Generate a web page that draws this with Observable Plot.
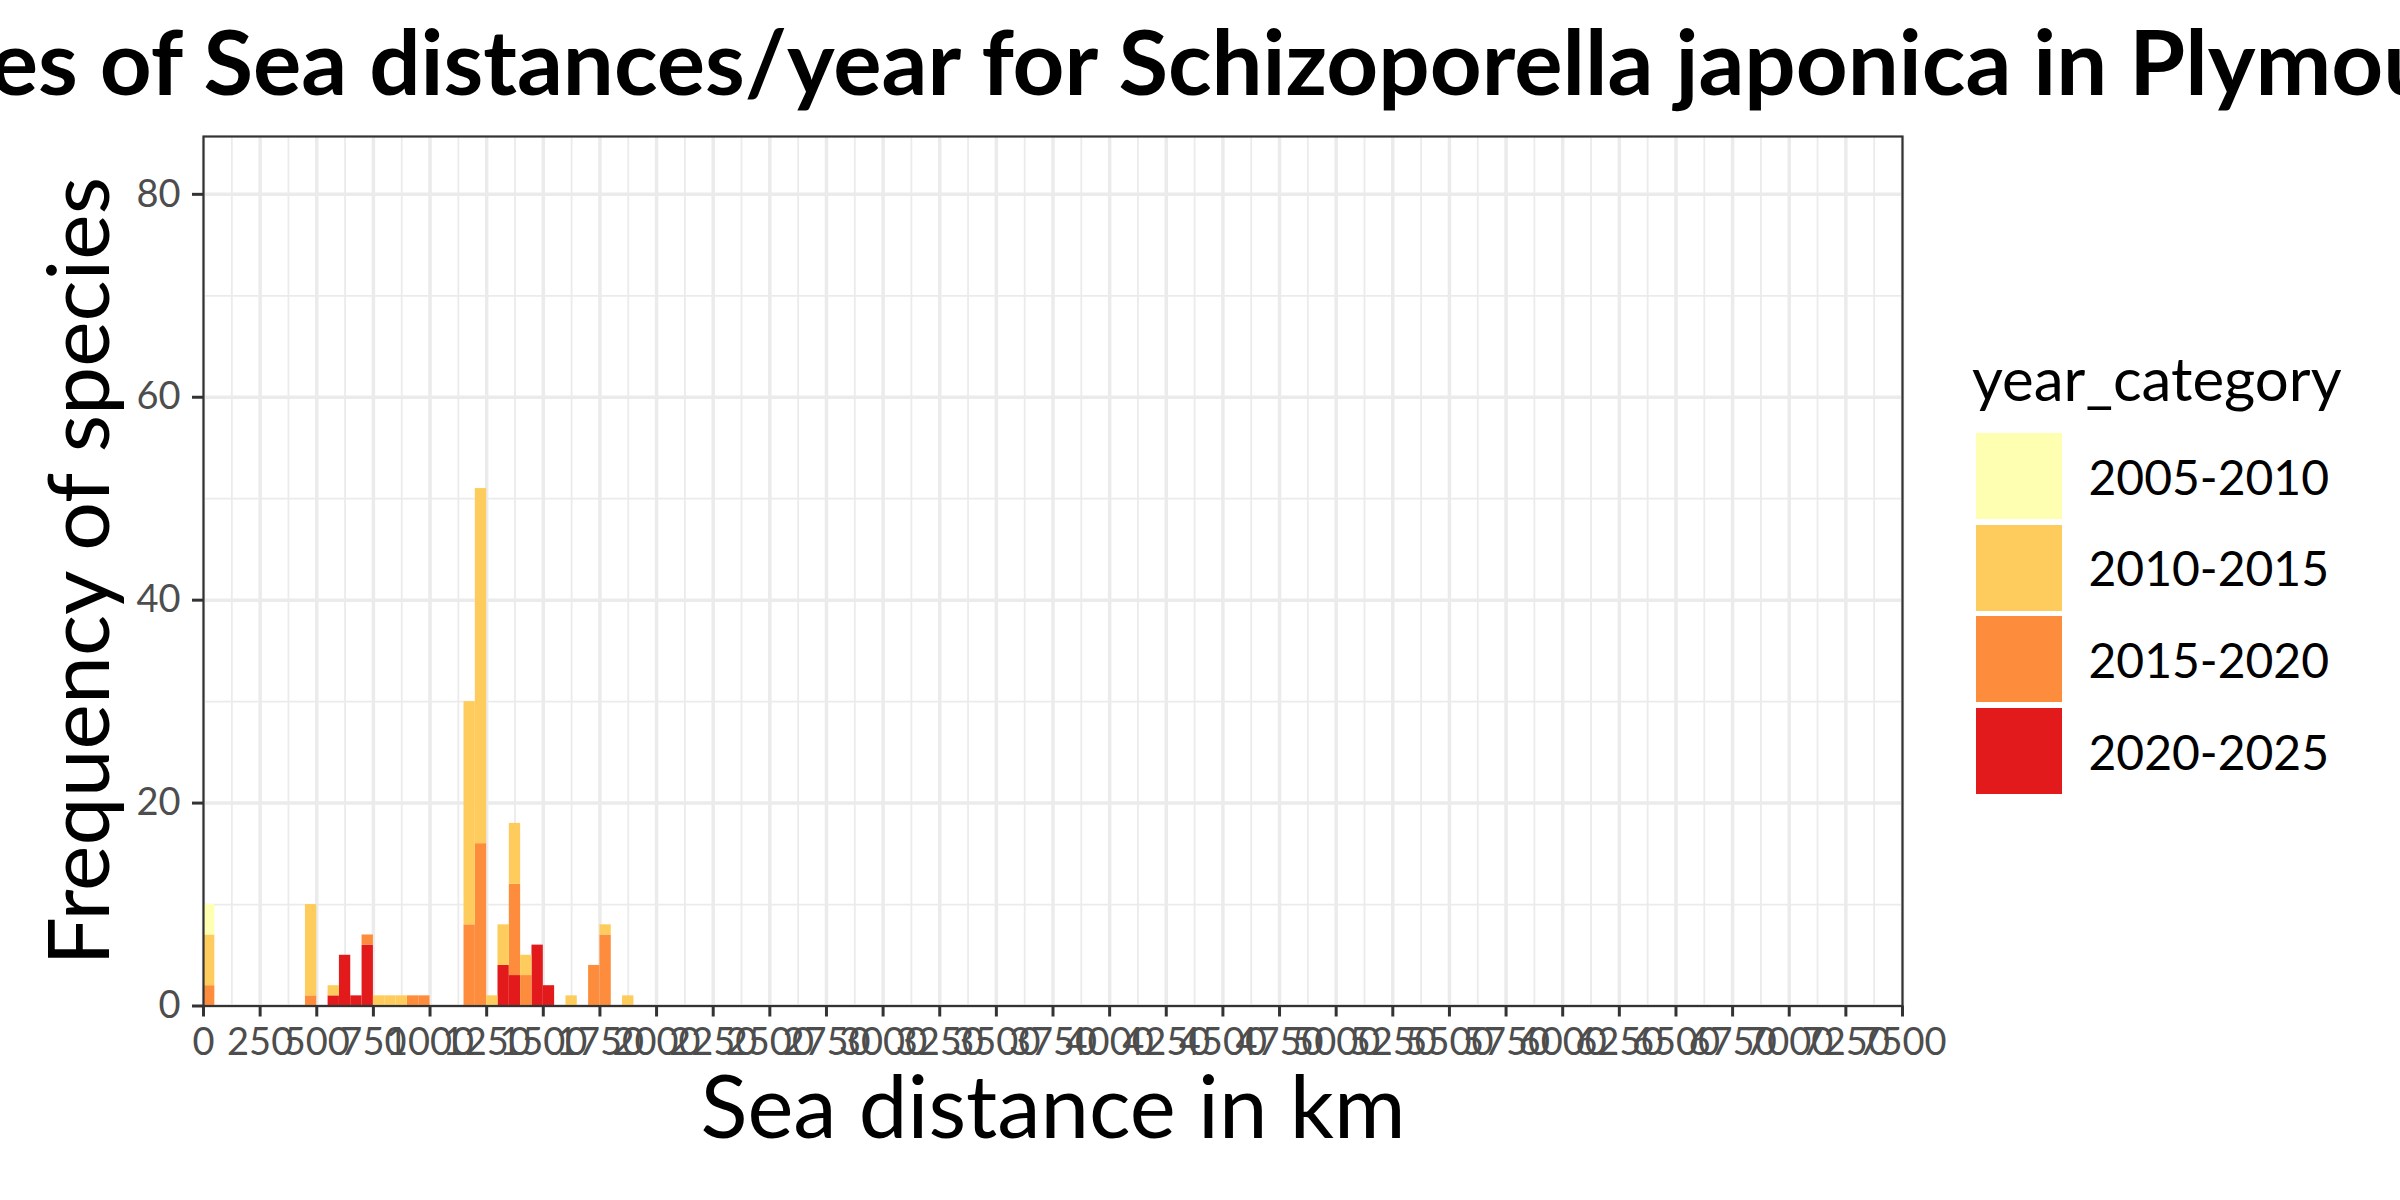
<!DOCTYPE html>
<html>
<head>
<meta charset="utf-8">
<script src="https://cdn.jsdelivr.net/npm/d3@7"></script>
<script src="https://cdn.jsdelivr.net/npm/@observablehq/plot@0.6"></script>
<style>
  body { margin: 0; background: #fff; }
  #wrap { position: relative; width: 2400px; height: 1200px; overflow: hidden; background: #fff; font-family: Lato, "Open Sans", sans-serif; }
  #chart { position: absolute; left: 0; top: 0; }
  #title { position: absolute; left: 1056px; top: 15px; transform: translateX(-50%); white-space: nowrap; font-weight: bold; font-size: 90.5px; line-height: 1; color: #000; z-index: 2; }
  #legend-title { position: absolute; left: 1972px; top: 348px; font-size: 60px; line-height: 1; color: #000; white-space: nowrap; }
  .lg-row { position: absolute; left: 1975.5px; height: 86px; display: flex; align-items: center; }
  .lg-key { width: 86px; height: 86px; }
  .lg-lab { margin-left: 27px; font-size: 48px; color: #000; white-space: nowrap; }
</style>
</head>
<body>
<div id="wrap">
  <div id="title"></div>
  <div id="chart"></div>
  <div id="legend-title"></div>
  <div id="legend"></div>
</div>
<script>
// ---- data ----
const titleText = "Frequencies of Sea distances/year for Schizoporella japonica in Plymouth";
const xLabel = "Sea distance in km";
const yLabel = "Frequency of species";
const legendTitle = "year_category";
const categories = ["2005-2010", "2010-2015", "2015-2020", "2020-2025"];
const colors = ["#FFFFB2", "#FECC5C", "#FD8D3C", "#E31A1C"];
const binWidth = 50;
const binStart = [0, 450, 550, 600, 650, 700, 750, 800, 850, 900, 950, 1150, 1200, 1250, 1300, 1350, 1400, 1450, 1500, 1600, 1700, 1750, 1850];
const count2005_2010 = [3, 0, 0, 0, 0, 0, 0, 0, 0, 0, 0, 0, 0, 0, 0, 0, 0, 0, 0, 0, 0, 0, 0];
const count2010_2015 = [5, 9, 1, 0, 0, 0, 1, 1, 1, 0, 0, 22, 35, 1, 4, 6, 2, 0, 0, 1, 0, 1, 1];
const count2015_2020 = [2, 1, 0, 0, 0, 1, 0, 0, 0, 1, 1, 8, 16, 0, 0, 9, 3, 0, 0, 0, 4, 7, 0];
const count2020_2025 = [0, 0, 1, 5, 1, 6, 0, 0, 0, 0, 0, 0, 0, 0, 4, 3, 0, 6, 2, 0, 0, 0, 0];
const xTicks = d3.range(0, 7501, 250);
const xMinor = d3.range(125, 7500, 250);
const yTicks = [0, 20, 40, 60, 80];
const yMinor = [10, 30, 50, 70];

// ---- table for the stacked bars (bottom of stack first) ----
const seriesCounts = [count2005_2010, count2010_2015, count2015_2020, count2020_2025];
const stackOrder = categories.slice().reverse();
const rows = [];
for (const cat of stackOrder) {
  const counts = seriesCounts[categories.indexOf(cat)];
  binStart.forEach((b, i) => {
    if (counts[i] > 0) rows.push({cat, x1: b, x2: b + binWidth, count: counts[i]});
  });
}

const chart = Plot.plot({
  width: 1960,
  height: 1200,
  marginLeft: 203,
  marginRight: 58,
  marginTop: 136,
  marginBottom: 194.5,
  style: {fontFamily: "Lato, 'Open Sans', sans-serif", background: "transparent", overflow: "visible"},
  x: {domain: [0, 7500]},
  y: {domain: [0, 85.7]},
  color: {domain: categories, range: colors},
  marks: [
    Plot.gridX(xMinor, {stroke: "#EBEBEB", strokeOpacity: 1, strokeWidth: 1.8}),
    Plot.gridY(yMinor, {stroke: "#EBEBEB", strokeOpacity: 1, strokeWidth: 1.8}),
    Plot.gridX(xTicks, {stroke: "#EBEBEB", strokeOpacity: 1, strokeWidth: 3.5}),
    Plot.gridY(yTicks, {stroke: "#EBEBEB", strokeOpacity: 1, strokeWidth: 3.5}),
    Plot.rectY(rows, {x1: "x1", x2: "x2", y: "count", fill: "cat", order: stackOrder}),
    Plot.frame({stroke: "#333333", strokeWidth: 2.2}),
    Plot.axisX(xTicks, {tickSize: 11, tickPadding: 11, fontSize: 38, color: "#4D4D4D", stroke: "#333333", strokeWidth: 3, label: null, tickFormat: d => String(d)}),
    Plot.axisY(yTicks, {tickSize: 11, tickPadding: 12, fontSize: 38, color: "#4D4D4D", stroke: "#333333", strokeWidth: 3, label: null, tickFormat: d => String(d)}),
    Plot.text([xLabel], {text: d => d, frameAnchor: "bottom", textAnchor: "middle", lineAnchor: "bottom", dy: 131.5, fontSize: 87, fill: "#000"}),
    Plot.text([yLabel], {text: d => d, frameAnchor: "left", textAnchor: "middle", lineAnchor: "bottom", rotate: -90, dx: -95, fontSize: 86, fill: "#000"})
  ]
});
document.getElementById("chart").appendChild(chart);
document.getElementById("title").textContent = titleText;
document.getElementById("legend-title").textContent = legendTitle;

const legend = document.getElementById("legend");
categories.forEach((c, i) => {
  const row = document.createElement("div");
  row.className = "lg-row";
  row.style.top = (433 + i * 91.7) + "px";
  const key = document.createElement("div");
  key.className = "lg-key";
  key.style.background = colors[i];
  const lab = document.createElement("div");
  lab.className = "lg-lab";
  lab.textContent = c;
  row.appendChild(key);
  row.appendChild(lab);
  legend.appendChild(row);
});
</script>
</body>
</html>
